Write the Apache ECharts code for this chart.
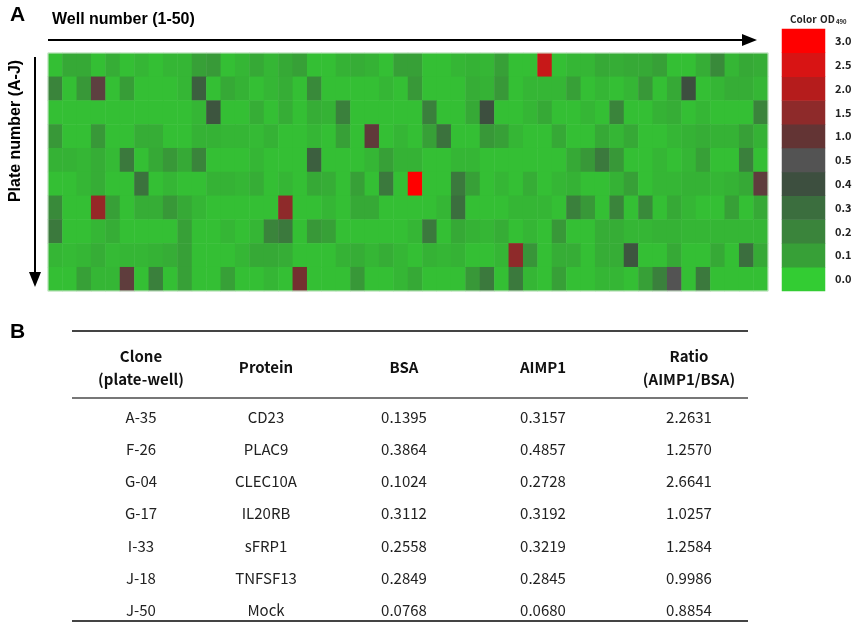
<!DOCTYPE html>
<html>
<head>
<meta charset="utf-8">
<script src="https://cdn.jsdelivr.net/npm/echarts@6/dist/echarts.min.js"></script>
<style>
  html, body { margin: 0; padding: 0; background: #fff; }
  #main { width: 856px; height: 623px; }
</style>
</head>
<body>
<div id="main"></div>
<script>
// plate rows A-J, OD490 per well (1-50)
const plateNames = ['A', 'B', 'C', 'D', 'E', 'F', 'G', 'H', 'I', 'J'];
const plateA = [0.03,0.08,0.08,0.03,0.07,0.03,0.05,0.03,0.05,0.05,0.1,0.12,0.03,0.05,0.08,0.05,0.08,0.1,0.03,0.03,0.06,0.07,0.06,0.03,0.1,0.1,0.03,0.03,0.05,0.06,0.05,0.1,0.03,0.03,2.26,0.03,0.05,0.05,0.08,0.07,0.08,0.08,0.1,0.03,0.03,0.07,0.18,0.05,0.08,0.07];
const plateB = [0.2,0.03,0.13,0.8,0.03,0.11,0.03,0.03,0.03,0.05,0.35,0.03,0.08,0.06,0.03,0.05,0.07,0.03,0.18,0.03,0.03,0.03,0.03,0.05,0.03,0.13,0.03,0.03,0.03,0.07,0.06,0.13,0.03,0.05,0.05,0.05,0.1,0.03,0.05,0.03,0.05,0.13,0.03,0.08,0.4,0.03,0.05,0.07,0.07,0.05];
const plateC = [0.03,0.03,0.03,0.03,0.03,0.03,0.03,0.03,0.03,0.03,0.05,0.38,0.03,0.03,0.07,0.03,0.07,0.03,0.07,0.06,0.22,0.03,0.03,0.03,0.03,0.03,0.22,0.03,0.03,0.08,0.4,0.03,0.03,0.05,0.08,0.03,0.03,0.05,0.03,0.2,0.03,0.03,0.06,0.07,0.03,0.05,0.03,0.03,0.03,0.2];
const plateD = [0.13,0.03,0.03,0.13,0.03,0.03,0.07,0.07,0.03,0.03,0.06,0.06,0.05,0.05,0.04,0.06,0.03,0.03,0.05,0.03,0.1,0.03,0.9,0.03,0.05,0.03,0.1,0.28,0.03,0.03,0.13,0.1,0.05,0.03,0.03,0.08,0.03,0.03,0.08,0.05,0.08,0.03,0.03,0.05,0.06,0.07,0.06,0.06,0.1,0.06];
const plateE = [0.06,0.06,0.05,0.07,0.04,0.25,0.03,0.08,0.13,0.08,0.2,0.03,0.03,0.03,0.05,0.03,0.03,0.03,0.35,0.03,0.03,0.03,0.05,0.1,0.06,0.06,0.03,0.03,0.05,0.05,0.03,0.03,0.03,0.03,0.03,0.03,0.08,0.13,0.25,0.13,0.03,0.03,0.05,0.03,0.05,0.1,0.03,0.03,0.22,0.03];
const plateF = [0.03,0.03,0.05,0.07,0.03,0.03,0.28,0.03,0.05,0.03,0.03,0.06,0.06,0.05,0.07,0.03,0.05,0.03,0.08,0.07,0.03,0.1,0.03,0.25,0.03,3.0,0.03,0.03,0.25,0.1,0.03,0.05,0.03,0.07,0.03,0.05,0.06,0.03,0.03,0.06,0.1,0.03,0.05,0.05,0.06,0.06,0.05,0.06,0.08,0.85];
const plateG = [0.18,0.03,0.03,1.6,0.1,0.03,0.07,0.07,0.13,0.08,0.05,0.03,0.03,0.03,0.03,0.03,1.5,0.03,0.03,0.05,0.03,0.08,0.08,0.03,0.03,0.03,0.03,0.05,0.3,0.03,0.03,0.03,0.05,0.05,0.05,0.03,0.22,0.13,0.03,0.2,0.03,0.18,0.03,0.08,0.05,0.03,0.03,0.1,0.03,0.08];
const plateH = [0.25,0.03,0.03,0.05,0.07,0.03,0.03,0.03,0.03,0.1,0.03,0.03,0.05,0.03,0.05,0.2,0.25,0.03,0.13,0.1,0.03,0.03,0.03,0.03,0.03,0.05,0.25,0.03,0.08,0.06,0.05,0.07,0.03,0.05,0.03,0.13,0.03,0.03,0.07,0.07,0.05,0.05,0.06,0.06,0.05,0.05,0.05,0.05,0.05,0.05];
const plateI = [0.05,0.04,0.05,0.07,0.04,0.05,0.05,0.06,0.07,0.1,0.03,0.03,0.03,0.05,0.08,0.08,0.07,0.03,0.03,0.03,0.06,0.07,0.05,0.07,0.05,0.03,0.06,0.05,0.06,0.03,0.03,0.05,1.5,0.14,0.03,0.07,0.07,0.03,0.07,0.07,0.38,0.03,0.03,0.08,0.03,0.03,0.08,0.03,0.3,0.08];
const plateJ = [0.03,0.03,0.1,0.05,0.05,0.85,0.03,0.22,0.03,0.1,0.03,0.03,0.1,0.03,0.03,0.05,0.03,1.2,0.03,0.03,0.03,0.13,0.03,0.03,0.05,0.08,0.03,0.03,0.03,0.13,0.25,0.03,0.25,0.05,0.03,0.1,0.03,0.03,0.05,0.05,0.03,0.1,0.22,0.5,0.03,0.25,0.03,0.03,0.03,0.03];
const plates = [plateA, plateB, plateC, plateD, plateE, plateF, plateG, plateH, plateI, plateJ];

// colour key
const keyLabels = ['0.0', '0.1', '0.2', '0.3', '0.4', '0.5', '1.0', '1.5', '2.0', '2.5', '3.0'];
const keyValues = [0, 0.1, 0.2, 0.3, 0.4, 0.5, 1.0, 1.5, 2.0, 2.5, 3.0];
const keyColors = ['#33cc33', '#37a037', '#3a843b', '#3b6e3e', '#3d4f3f', '#535353', '#633434', '#8e2a2a', '#b51c1c', '#d81414', '#ff0000'];

// table B
const clones = ['A-35', 'F-26', 'G-04', 'G-17', 'I-33', 'J-18', 'J-50'];
const proteins = ['CD23', 'PLAC9', 'CLEC10A', 'IL20RB', 'sFRP1', 'TNFSF13', 'Mock'];
const bsa = [0.1395, 0.3864, 0.1024, 0.3112, 0.2558, 0.2849, 0.0768];
const aimp1 = [0.3157, 0.4857, 0.2728, 0.3192, 0.3219, 0.2845, 0.0680];
const ratio = [2.2631, 1.2570, 2.6641, 1.0257, 1.2584, 0.9986, 0.8854];

const wells = [];
for (let i = 1; i <= 50; i++) wells.push(String(i));

const cells = [];
plates.forEach((row, r) => row.forEach((v, c) => cells.push([c, r, v])));

// key is not linear, so spread it over 0.1 steps for the visualMap
function hex(c) { return [1, 3, 5].map(i => parseInt(c.substr(i, 2), 16)); }
function colorAt(v) {
  for (let i = 0; i < keyValues.length - 1; i++) {
    if (v <= keyValues[i + 1] + 1e-9) {
      const t = (v - keyValues[i]) / (keyValues[i + 1] - keyValues[i]);
      const a = hex(keyColors[i]), b = hex(keyColors[i + 1]);
      return 'rgb(' + a.map((x, k) => Math.round(x + (b[k] - x) * t)).join(',') + ')';
    }
  }
  return keyColors[keyColors.length - 1];
}
const ramp = [];
for (let i = 0; i <= 30; i++) ramp.push(colorAt(i / 10));

const FONT = '"Noto Sans CJK KR", "Noto Sans", sans-serif';
const BOLD = 'Liberation Sans, Arial, sans-serif';

const graphics = [
  { type: 'text', left: 10, top: 5, style: { text: 'A', font: 'bold 21px ' + BOLD, fill: '#000' } },
  { type: 'text', left: 52, top: 12, style: { text: 'Well number (1-50)', font: 'bold 16px ' + BOLD, fill: '#000' } },
  { type: 'line', shape: { x1: 48, y1: 40, x2: 748, y2: 40 }, style: { stroke: '#000', lineWidth: 2 } },
  { type: 'polygon', shape: { points: [[742, 34], [757, 40], [742, 46]] }, style: { fill: '#000' } },
  { type: 'line', shape: { x1: 35, y1: 57, x2: 35, y2: 278 }, style: { stroke: '#000', lineWidth: 2 } },
  { type: 'polygon', shape: { points: [[29, 272], [35, 287], [41, 272]] }, style: { fill: '#000' } },
  { type: 'text', x: 16, y: 131, rotation: Math.PI / 2,
    style: { text: 'Plate number (A-J)', font: 'bold 16px ' + BOLD, fill: '#000', textAlign: 'center', textVerticalAlign: 'middle' } },
  { type: 'rect', shape: { x: 48, y: 53, width: 720, height: 238 }, z: 10,
    style: { fill: null, stroke: '#d4ead4', lineWidth: 1 } },
  { type: 'text', left: 790, top: 14, style: { text: 'Color', font: 'bold 10px ' + FONT, fill: '#222' } },
  { type: 'text', left: 820, top: 14, style: { text: 'OD', font: 'bold 10px ' + FONT, fill: '#222' } },
  { type: 'text', left: 836, top: 19, style: { text: '490', font: 'bold 6px ' + FONT, fill: '#222' } },
  { type: 'text', left: 10, top: 322, style: { text: 'B', font: 'bold 21px ' + BOLD, fill: '#000' } },
  { type: 'line', shape: { x1: 72, y1: 331, x2: 748, y2: 331 }, style: { stroke: '#444', lineWidth: 2 } },
  { type: 'line', shape: { x1: 72, y1: 398, x2: 748, y2: 398 }, style: { stroke: '#777', lineWidth: 2 } },
  { type: 'line', shape: { x1: 72, y1: 621, x2: 748, y2: 621 }, style: { stroke: '#444', lineWidth: 2 } }
];

const colX = [141, 266, 404, 543, 689];
const headers = [['Clone', '(plate-well)'], ['Protein'], ['BSA'], ['AIMP1'], ['Ratio', '(AIMP1/BSA)']];
headers.forEach((h, i) => {
  const ys = h.length === 2 ? [356, 379] : [367];
  h.forEach((t, j) => graphics.push({
    type: 'text', x: colX[i], y: ys[j],
    style: { text: t, font: '600 15px ' + FONT, fill: '#111', textAlign: 'center', textVerticalAlign: 'middle' }
  }));
});
clones.forEach((c, r) => {
  const row = [c, proteins[r], bsa[r].toFixed(4), aimp1[r].toFixed(4), ratio[r].toFixed(4)];
  row.forEach((t, i) => graphics.push({
    type: 'text', x: colX[i], y: 417 + r * 32.2,
    style: { text: t, font: '15px ' + FONT, fill: '#222', textAlign: 'center', textVerticalAlign: 'middle' }
  }));
});

const chart = echarts.init(document.getElementById('main'));
chart.setOption({
  animation: false,
  grid: [
    { left: 48, top: 53, width: 720, height: 238 },
    { left: 782, top: 29, width: 43, height: 262 }
  ],
  xAxis: [
    { type: 'category', data: wells, gridIndex: 0, show: false },
    { type: 'category', data: ['key'], gridIndex: 1, show: false }
  ],
  yAxis: [
    { type: 'category', data: plateNames, gridIndex: 0, inverse: true, show: false },
    {
      type: 'category', data: keyLabels, gridIndex: 1, position: 'right',
      axisLine: { show: false }, axisTick: { show: false },
      axisLabel: { margin: 10, fontSize: 11, fontWeight: 'bold', color: '#222', fontFamily: FONT }
    }
  ],
  visualMap: {
    show: false, min: 0, max: 3, dimension: 2, seriesIndex: [0, 1],
    inRange: { color: ramp }
  },
  series: [
    {
      type: 'heatmap', xAxisIndex: 0, yAxisIndex: 0, data: cells,
      itemStyle: { borderWidth: 0 }, emphasis: { disabled: true }
    },
    {
      type: 'heatmap', xAxisIndex: 1, yAxisIndex: 1,
      data: keyValues.map((v, i) => [0, i, v]),
      itemStyle: { borderWidth: 0 }, emphasis: { disabled: true }
    }
  ],
  graphic: graphics
});
</script>
</body>
</html>
